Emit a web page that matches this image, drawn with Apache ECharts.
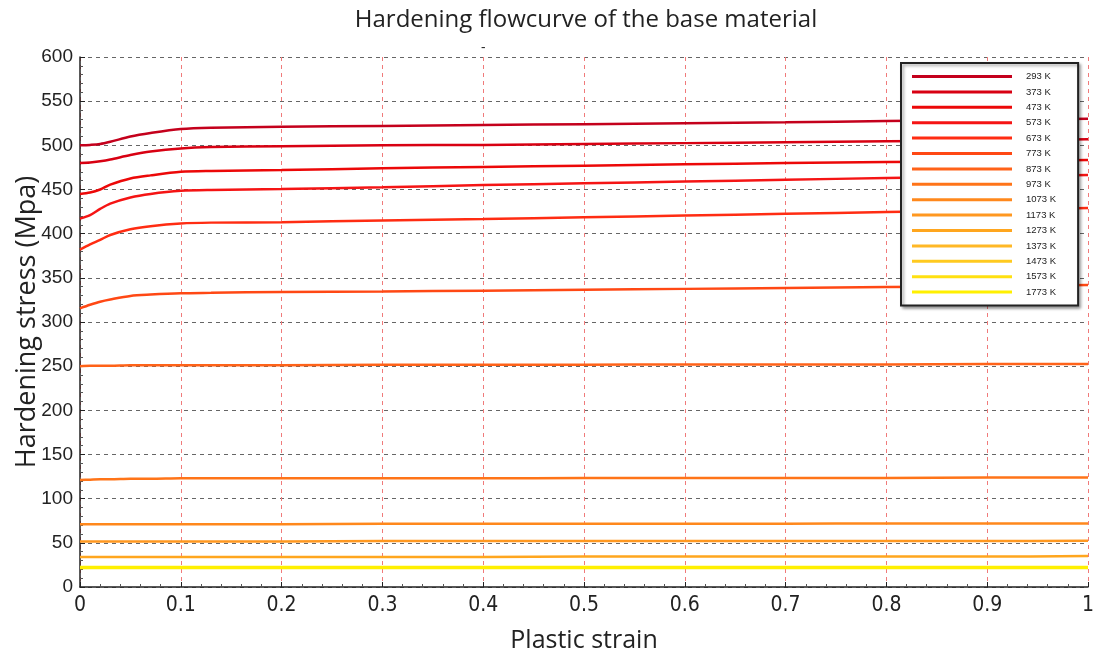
<!DOCTYPE html>
<html>
<head>
<meta charset="utf-8">
<script src="https://cdn.jsdelivr.net/npm/echarts@6/dist/echarts.min.js"></script>
<style>html,body{margin:0;padding:0;background:#fff}#c{width:1094px;height:654px}</style>
</head>
<body>
<div id="c"></div>
<script>
// Data
const strain = [0, 0.01, 0.02, 0.03, 0.05, 0.07, 0.1, 0.13, 0.2, 0.3, 0.4, 0.5, 0.6, 0.7, 0.8, 0.9, 1.0];
const seriesNames = ['293 K','373 K','473 K','573 K','673 K','773 K','873 K','973 K','1073 K','1173 K','1273 K','1373 K','1473 K','1573 K','1773 K'];
const s293  = [500, 500.5, 501.5, 504, 510, 514, 518.5, 520, 521, 522, 523, 524, 525, 526, 527.5, 528.5, 530];
const s373  = [480, 480.5, 482, 484, 489, 493, 496.5, 498, 499, 500, 500.5, 501.5, 502.5, 503.5, 504.5, 505.5, 507];
const s473  = [445, 446.5, 450, 455.5, 462.5, 466, 470, 471, 472, 474, 475.5, 477, 478.5, 480, 481, 482, 483.5];
const s573  = [417, 421, 428, 434, 441, 445, 448.5, 449.5, 450.5, 452.5, 455, 457, 459, 461, 463, 464.5, 466.5];
const s673  = [382, 388, 393, 398.5, 405, 408.5, 411.5, 412.5, 413, 415, 416.5, 418.5, 420.5, 422.5, 424.5, 426.5, 429];
const s773  = [315.5, 319.5, 323, 325.5, 329.5, 331, 332.5, 333, 334, 334.5, 335.5, 336.5, 337.5, 338.5, 339.5, 340.5, 342];
const s873  = [250, 250.5, 250.5, 250.5, 251, 251, 251, 251, 251, 251.5, 251.5, 251.5, 252, 252, 252, 252.5, 252.5];
const s973  = [121, 121.5, 122, 122, 122.5, 122.5, 123, 123, 123, 123, 123, 123.5, 123.5, 123.5, 123.5, 124, 124];
const s1073 = [71, 71, 71, 71, 71, 71, 71, 71, 71, 71.5, 71.5, 71.5, 71.5, 71.5, 72, 72, 72];
const s1173 = [51.5, 51.5, 51.5, 51.5, 51.5, 51.5, 51.5, 51.5, 51.5, 52, 52, 52, 52, 52, 52, 52, 52.5];
const s1273 = [34, 34, 34, 34, 34, 34, 34, 34, 34, 34, 34, 34.5, 34.5, 34.5, 34.5, 34.5, 35];
const s1373 = [22.5, 22.5, 22.5, 22.5, 22.5, 22.5, 22.5, 22.5, 22.5, 22.5, 22.5, 22.5, 22.5, 22.5, 22.5, 22.5, 22.5];
const s1473 = [22.3, 22.3, 22.3, 22.3, 22.3, 22.3, 22.3, 22.3, 22.3, 22.3, 22.3, 22.3, 22.3, 22.3, 22.3, 22.3, 22.3];
const s1573 = [22.1, 22.1, 22.1, 22.1, 22.1, 22.1, 22.1, 22.1, 22.1, 22.1, 22.1, 22.1, 22.1, 22.1, 22.1, 22.1, 22.1];
const s1773 = [22, 22, 22, 22, 22, 22, 22, 22, 22, 22, 22, 22, 22, 22, 22, 22, 22];
const allValues = [s293, s373, s473, s573, s673, s773, s873, s973, s1073, s1173, s1273, s1373, s1473, s1573, s1773];
const xTicks = ['0','0.1','0.2','0.3','0.4','0.5','0.6','0.7','0.8','0.9','1'];

const colors = ['#c4001c','#d80012','#ec0808','#f51414','#ff2c12','#ff4814','#ff6218','#ff7418','#ff881c','#ff9820','#ffa61e','#ffb826','#ffca20','#ffe010','#fff000'];

const series = seriesNames.map((n, i) => ({
  name: n,
  type: 'line',
  data: strain.map((x, j) => [x, allValues[i][j]]),
  showSymbol: false,
  smooth: 0.3,
  lineStyle: { width: i === 14 ? 3.5 : 2.5, color: colors[i] },
  itemStyle: { color: colors[i] },
  emphasis: { disabled: true },
  z: 3
}));

const chart = echarts.init(document.getElementById('c'), null, { renderer: 'canvas' });
chart.setOption({
  animation: false,
  backgroundColor: '#fff',
  title: {
    text: 'Hardening flowcurve of the base material',
    left: 581,
    textAlign: 'center',
    top: 3,
    textStyle: { fontFamily: 'Open Sans', fontSize: 24, fontWeight: 'normal', color: '#222' }
  },
  graphic: [{
    type: 'text', left: 481, top: 41, silent: true,
    style: { text: '-', fontFamily: 'Open Sans', fontSize: 14, fill: '#222' }
  }],
  grid: { left: 80, right: 6, top: 57, bottom: 67, outerBoundsMode: 'none', containLabel: false },
  legend: {
    data: seriesNames,
    orient: 'vertical',
    left: 901,
    top: 63,
    padding: [8, 22, 8, 11],
    itemWidth: 100,
    itemHeight: 3,
    itemGap: 4.4,
    icon: 'rect',
    borderColor: '#222',
    borderWidth: 2,
    backgroundColor: '#fff',
    shadowColor: 'rgba(0,0,0,0.35)',
    shadowBlur: 3,
    shadowOffsetX: 2,
    shadowOffsetY: 2,
    textStyle: { fontFamily: 'Liberation Sans', fontSize: 9.5, color: '#222', lineHeight: 11, padding: [0, 0, 0, 9] },
    selectedMode: false
  },
  xAxis: {
    type: 'value',
    min: 0, max: 1, interval: 0.1,
    name: 'Plastic strain',
    nameLocation: 'middle',
    nameGap: 41,
    nameMoveOverlap: false,
    nameTextStyle: { fontFamily: 'Open Sans', fontSize: 25, color: '#222' },
    axisLine: { show: true, onZero: false, lineStyle: { color: '#222', width: 1.5 } },
    axisTick: { show: true, inside: true, length: 5, lineStyle: { color: '#222' } },
    minorTick: { show: true, splitNumber: 5, length: 3, lineStyle: { color: '#555' } },
    axisLabel: {
      fontFamily: '"Liberation Sans Narrow", "DejaVu Sans Condensed", "Liberation Sans"', fontSize: 21, color: '#222', margin: 8,
      formatter: v => xTicks[Math.round(v * 10)]
    },
    splitLine: { show: true, lineStyle: { color: '#f07a7a', type: [4, 4], width: 1 } }
  },
  yAxis: {
    type: 'value',
    min: 0, max: 600, interval: 50,
    name: 'Hardening stress (Mpa)',
    nameLocation: 'middle',
    nameGap: 39,
    nameMoveOverlap: false,
    nameTextStyle: { fontFamily: 'Open Sans', fontSize: 27, color: '#222' },
    axisLine: { show: true, lineStyle: { color: '#222', width: 1.5 } },
    axisTick: { show: true, inside: true, length: 5, lineStyle: { color: '#222' } },
    minorTick: { show: true, splitNumber: 5, length: 3, lineStyle: { color: '#555' } },
    axisLabel: { fontFamily: 'Liberation Sans', fontSize: 19, color: '#222', margin: 7 },
    splitLine: { show: true, lineStyle: { color: '#666', type: [4, 4], width: 1 } }
  },
  series: series
});
</script>
</body>
</html>
